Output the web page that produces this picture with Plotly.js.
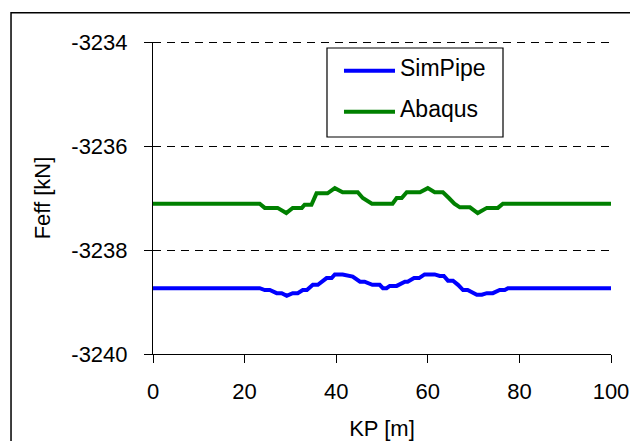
<!DOCTYPE html>
<html>
<head>
<meta charset="utf-8">
<script src="https://cdn.plot.ly/plotly-3.0.1.min.js"></script>
<style>
  html, body { margin: 0; padding: 0; background: #ffffff; }
  #chart { width: 630px; height: 441px; }
</style>
</head>
<body>
<div id="chart"></div>
<script>
// Effective axial force along the pipe, two solvers compared
const seriesNames = ["SimPipe", "Abaqus"];
const seriesColors = ["#0000FF", "#008000"];

const simPipeKP = [0, 23.3, 24.4, 25.5, 27.0, 28.1, 29.2, 30.5, 31.6, 32.7, 33.6, 34.9, 36.0,
  37.9, 39.0, 39.7, 41.4, 43.0, 43.6, 45.2, 46.2, 47.9, 49.5, 50.2, 51.0, 51.7, 53.2, 55.0,
  55.6, 57.0, 58.1, 59.3, 61.5, 62.6, 63.5, 64.4, 65.5, 66.6, 67.7, 68.7, 70.7, 71.8, 72.9,
  74.2, 75.7, 76.8, 77.5, 100];
const simPipeFeff = [-3238.735, -3238.735, -3238.77, -3238.77, -3238.83, -3238.83, -3238.88,
  -3238.83, -3238.83, -3238.77, -3238.77, -3238.67, -3238.67, -3238.54, -3238.54, -3238.47,
  -3238.47, -3238.51, -3238.51, -3238.61, -3238.61, -3238.67, -3238.67, -3238.735, -3238.735,
  -3238.69, -3238.69, -3238.61, -3238.61, -3238.54, -3238.54, -3238.47, -3238.47, -3238.50,
  -3238.50, -3238.59, -3238.59, -3238.67, -3238.77, -3238.77, -3238.86, -3238.86, -3238.83,
  -3238.83, -3238.77, -3238.77, -3238.735, -3238.735];

const abaqusKP = [0, 23.3, 24.4, 27.2, 29.1, 30.5, 32.5, 33.1, 34.6, 35.7, 38.1, 39.7, 41.4,
  44.7, 45.8, 47.8, 52.3, 53.2, 54.3, 55.4, 58.3, 60.0, 61.5, 63.3, 64.6, 65.8, 67.0, 69.2,
  70.9, 72.9, 75.3, 76.4, 100];
const abaqusFeff = [-3237.11, -3237.11, -3237.19, -3237.19, -3237.29, -3237.19, -3237.19,
  -3237.13, -3237.13, -3236.91, -3236.91, -3236.81, -3236.89, -3236.89, -3237.00, -3237.11,
  -3237.11, -3237.00, -3237.00, -3236.89, -3236.89, -3236.81, -3236.89, -3236.89, -3237.00,
  -3237.11, -3237.18, -3237.18, -3237.29, -3237.19, -3237.19, -3237.11, -3237.11];

const xTickVals = [0, 20, 40, 60, 80, 100];
const yTickVals = [-3240, -3238, -3236, -3234];
const xTitle = "KP [m]";
const yTitle = "Feff [kN]";

const FONT = "Liberation Sans, Arial, sans-serif";
const GRID_DASH = "8px,6px";
const PLOT_H = 312;

const traces = [
  { x: simPipeKP, y: simPipeFeff, name: seriesNames[0], mode: "lines",
    line: { color: seriesColors[0], width: 4 }, showlegend: false },
  { x: abaqusKP, y: abaqusFeff, name: seriesNames[1], mode: "lines",
    line: { color: seriesColors[1], width: 4 }, showlegend: false }
];

const yMax = yTickVals[yTickVals.length - 1];

// Boxed key drawn in paper space
const keyRows = [0.908, 0.7766];
const topGridY = 1 - 0.5 / PLOT_H;   // half-pixel inset keeps the line crisp
const shapes = [
  // dashed gridline on the top edge of the plot (Plotly omits grid at the range end)
  { type: "line", xref: "paper", yref: "paper", x0: 0, x1: 1, y0: topGridY, y1: topGridY,
    line: { color: "#000000", width: 1, dash: GRID_DASH }, layer: "below" },
  { type: "rect", xref: "paper", yref: "paper", x0: 0.3799, x1: 0.7642, y0: 0.6955, y1: 0.9808,
    line: { color: "#000000", width: 1.2 }, fillcolor: "#ffffff", layer: "above" },
  // outer chart frame (left and top edges)
  { type: "path", xref: "paper", yref: "paper",
    path: "M -0.31,-0.6 L -0.31,1.0939 L 1.3,1.0939",
    line: { color: "#000000", width: 1.5 } }
];
const annotations = [];
seriesNames.forEach(function (name, i) {
  shapes.push({ type: "line", xref: "paper", yref: "paper", x0: 0.417, x1: 0.5284,
    y0: keyRows[i], y1: keyRows[i], line: { color: seriesColors[i], width: 4 }, layer: "above" });
  annotations.push({ xref: "paper", yref: "paper", x: 0.534, y: keyRows[i] + 0.008,
    xanchor: "left", yanchor: "middle", showarrow: false, text: name,
    font: { family: FONT, size: 23, color: "#000000" } });
});

const layout = {
  width: 630, height: 441,
  margin: { l: 153, r: 19, t: 42, b: 87, pad: 0 },
  paper_bgcolor: "#ffffff", plot_bgcolor: "#ffffff",
  font: { family: FONT, size: 22, color: "#000000" },
  showlegend: false,
  xaxis: {
    range: [0, 100], tickvals: xTickVals, ticktext: xTickVals.map(String),
    showgrid: false, zeroline: false, showline: true, linecolor: "#000000", linewidth: 1,
    ticks: "outside", ticklen: 8, tickcolor: "#000000", tickwidth: 1,
    ticklabelstandoff: 10,
    tickfont: { family: FONT, size: 22, color: "#000000" },
    title: { text: xTitle, font: { family: FONT, size: 22, color: "#000000" }, standoff: 19 }
  },
  yaxis: {
    range: [-3240, yMax], tickvals: yTickVals, ticktext: yTickVals.map(String),
    showgrid: true, gridcolor: "#000000", gridwidth: 1, griddash: GRID_DASH,
    zeroline: false, showline: true, linecolor: "#000000", linewidth: 1,
    ticks: "outside", ticklen: 8, tickcolor: "#000000", tickwidth: 1,
    ticklabelstandoff: 12,
    tickfont: { family: FONT, size: 22, color: "#000000" },
    title: { text: yTitle, font: { family: FONT, size: 22, color: "#000000" }, standoff: 14 }
  },
  shapes: shapes,
  annotations: annotations
};

Plotly.newPlot("chart", traces, layout, { staticPlot: true, displayModeBar: false });
</script>
</body>
</html>
